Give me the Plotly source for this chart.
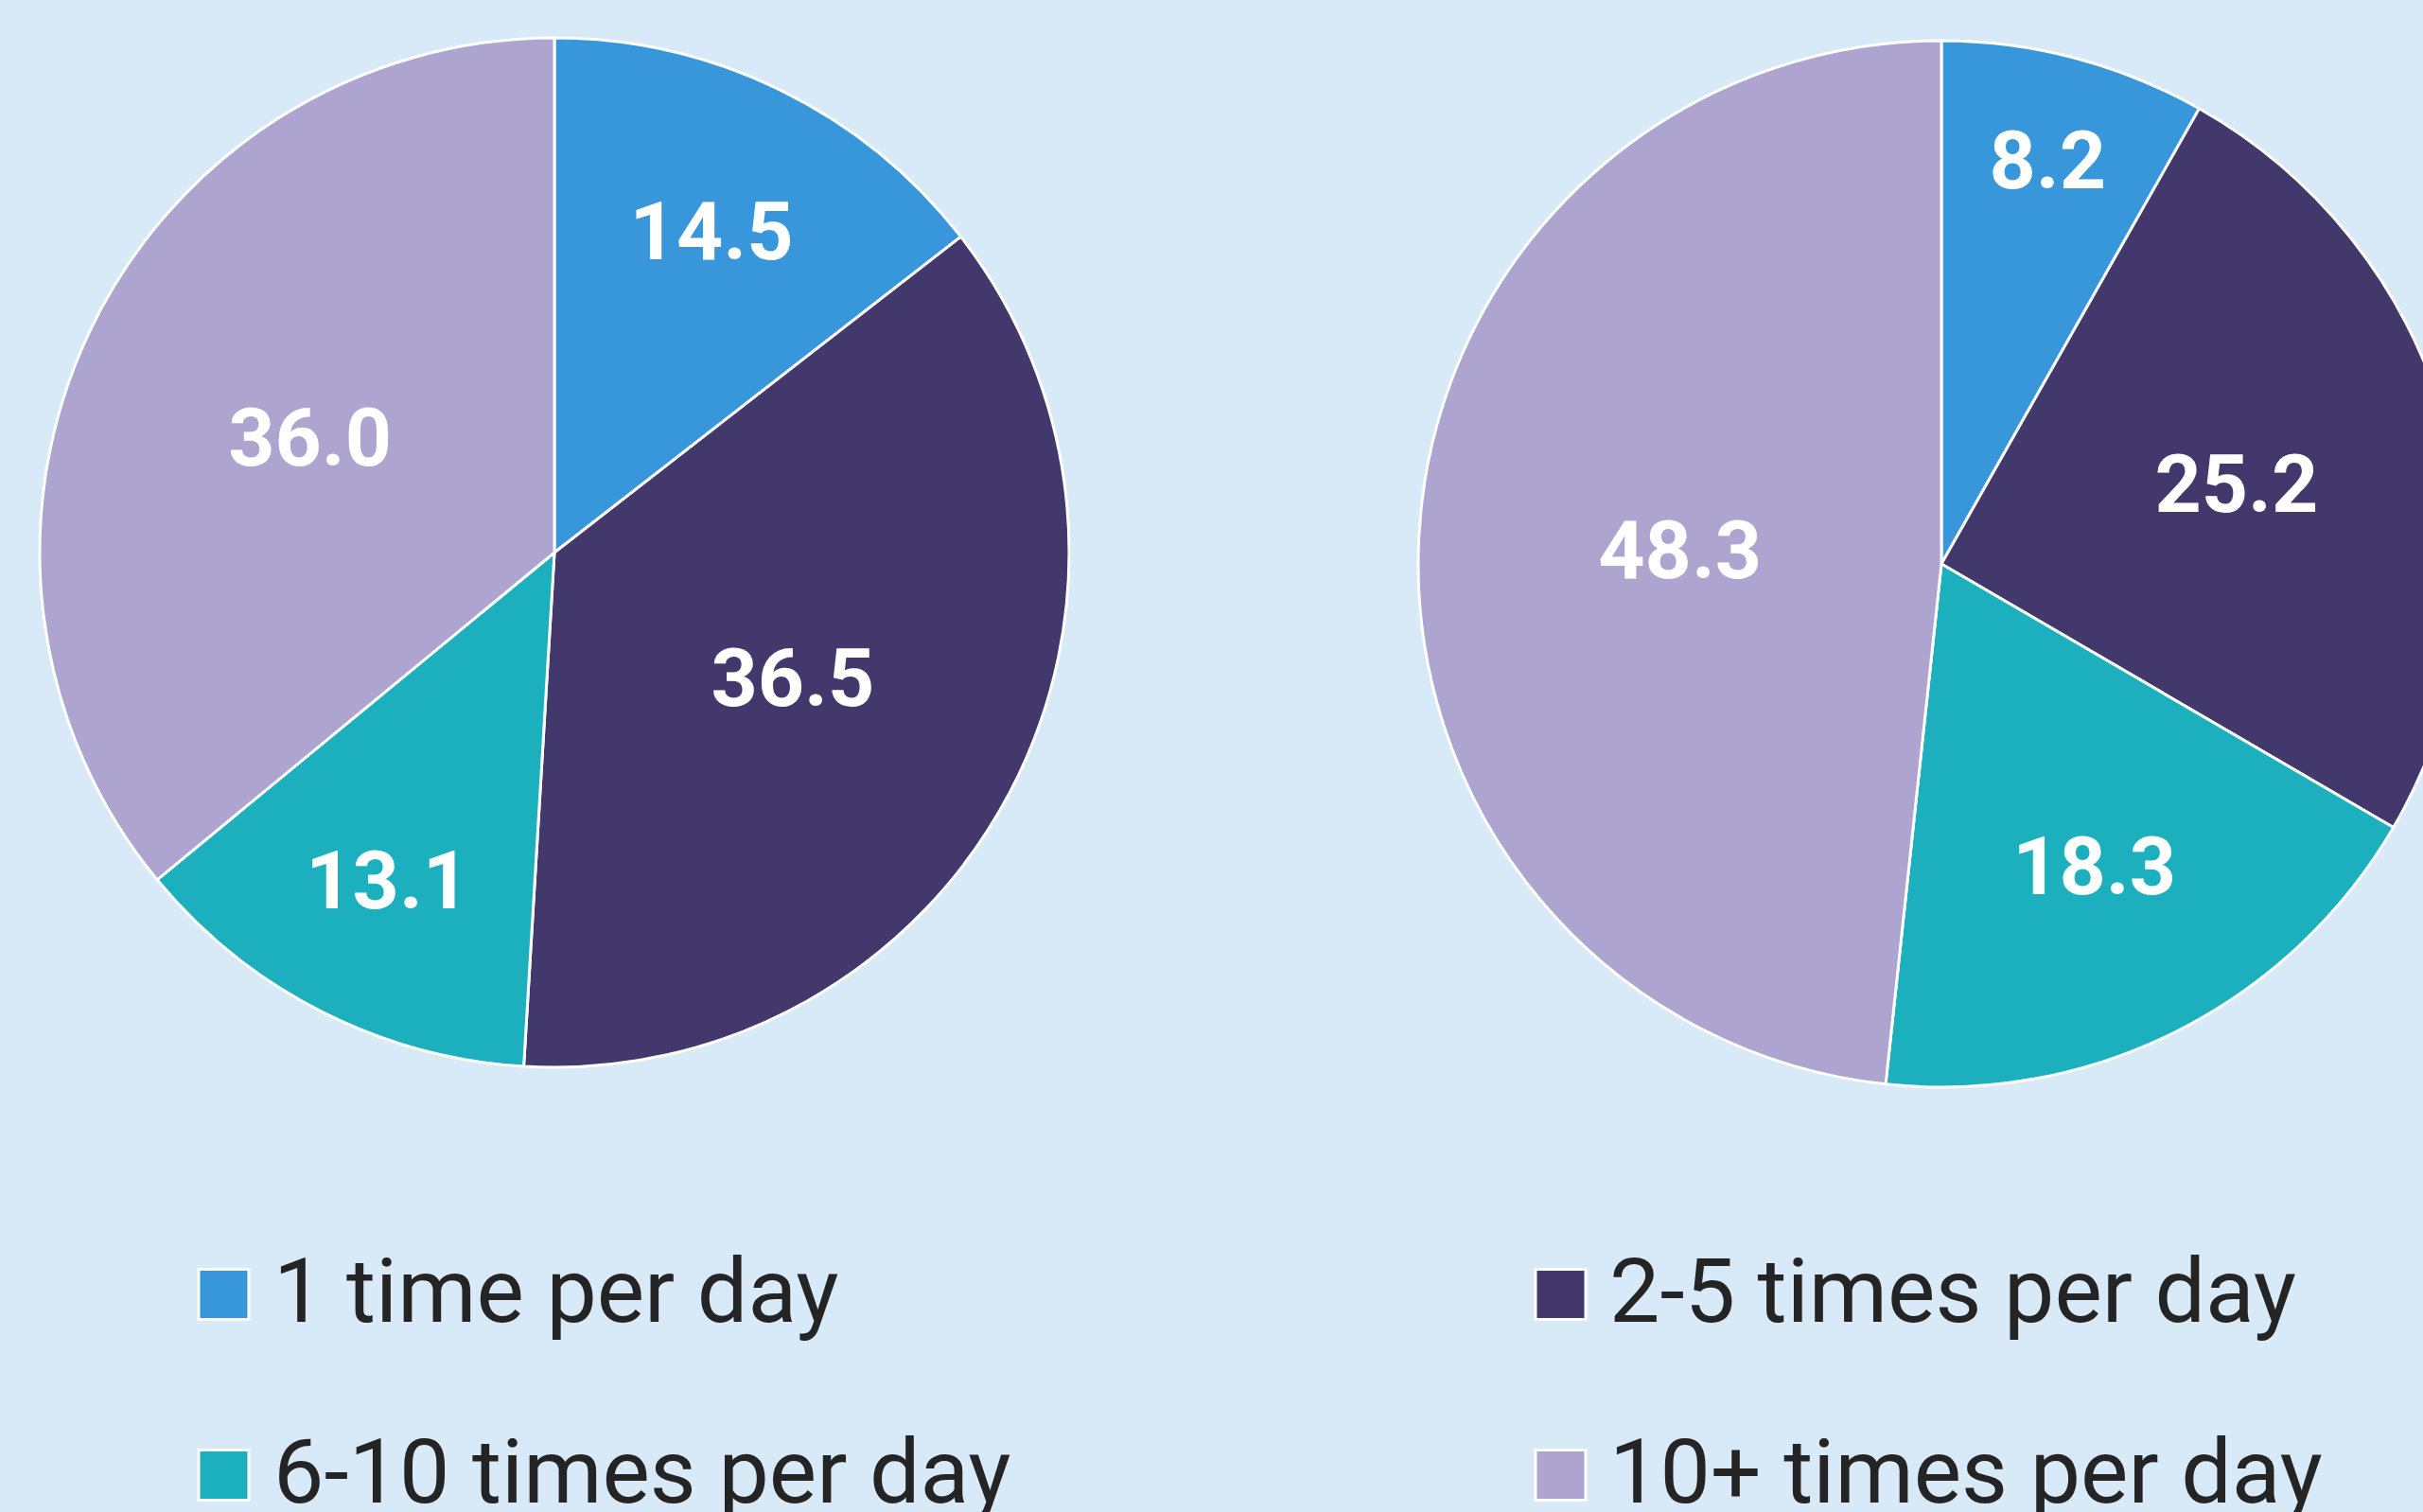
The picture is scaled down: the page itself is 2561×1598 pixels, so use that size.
import plotly.graph_objects as go

# ---- data ----
categories = ["1 time per day", "2-5 times per day", "6-10 times per day", "10+ times per day"]
left_values = [14.5, 36.5, 13.1, 36.0]
right_values = [8.2, 25.2, 18.3, 48.3]
colors = ["#3897DB", "#43386B", "#1CB0BE", "#ADA4CF"]

BG = "#D8EAF7"
W, H = 2620, 1598


def px_x(p):
    return p / W


def px_y(p):
    return 1 - p / H


def pie(values, cx, cy, r, name):
    return go.Pie(
        labels=categories,
        values=values,
        name=name,
        sort=False,
        direction="clockwise",
        rotation=0,
        marker=dict(colors=colors, line=dict(color="white", width=3)),
        texttemplate="%{value:.1f}",
        textposition="inside",
        insidetextorientation="horizontal",
        textfont=dict(family="Roboto", size=86, color="white", weight="bold"),
        domain=dict(x=[px_x(cx - r), px_x(cx + r)], y=[px_y(cy + r), px_y(cy - r)]),
        showlegend=False,
        hoverinfo="label+value",
    )


fig = go.Figure()
fig.add_trace(pie(left_values, 586, 584, 544, "left"))
fig.add_trace(pie(right_values, 2052, 596, 553, "right"))

# ---- custom legend (two columns, two rows) ----
col_swatch_x = [210, 1623]
col_text_x = [287, 1699]
row_center_y = [1368, 1559]
row_text_y = [1364, 1555]
sw = 53
shapes = []
annotations = []
for i, (lab, col) in enumerate(zip(categories, colors)):
    c = i % 2
    r = i // 2
    x0 = col_swatch_x[c]
    yc = row_center_y[r]
    shapes.append(dict(
        type="rect", xref="paper", yref="paper",
        x0=px_x(x0), x1=px_x(x0 + sw),
        y0=px_y(yc + sw / 2), y1=px_y(yc - sw / 2),
        fillcolor=col, line=dict(color="white", width=3), layer="above",
    ))
    annotations.append(dict(
        text=lab, xref="paper", yref="paper",
        x=px_x(col_text_x[c]), y=px_y(row_text_y[r]),
        xanchor="left", yanchor="middle", showarrow=False,
        font=dict(family="Roboto", size=95, color="#242424"),
    ))

fig.update_layout(
    width=W,
    height=H,
    margin=dict(l=0, r=0, t=0, b=0, pad=0, autoexpand=False),
    paper_bgcolor=BG,
    plot_bgcolor=BG,
    showlegend=False,
    shapes=shapes,
    annotations=annotations,
)

fig.write_html(
    "out.html",
    post_script="document.body.style.margin='0';document.body.style.overflow='hidden';document.documentElement.style.overflow='hidden';",
)
